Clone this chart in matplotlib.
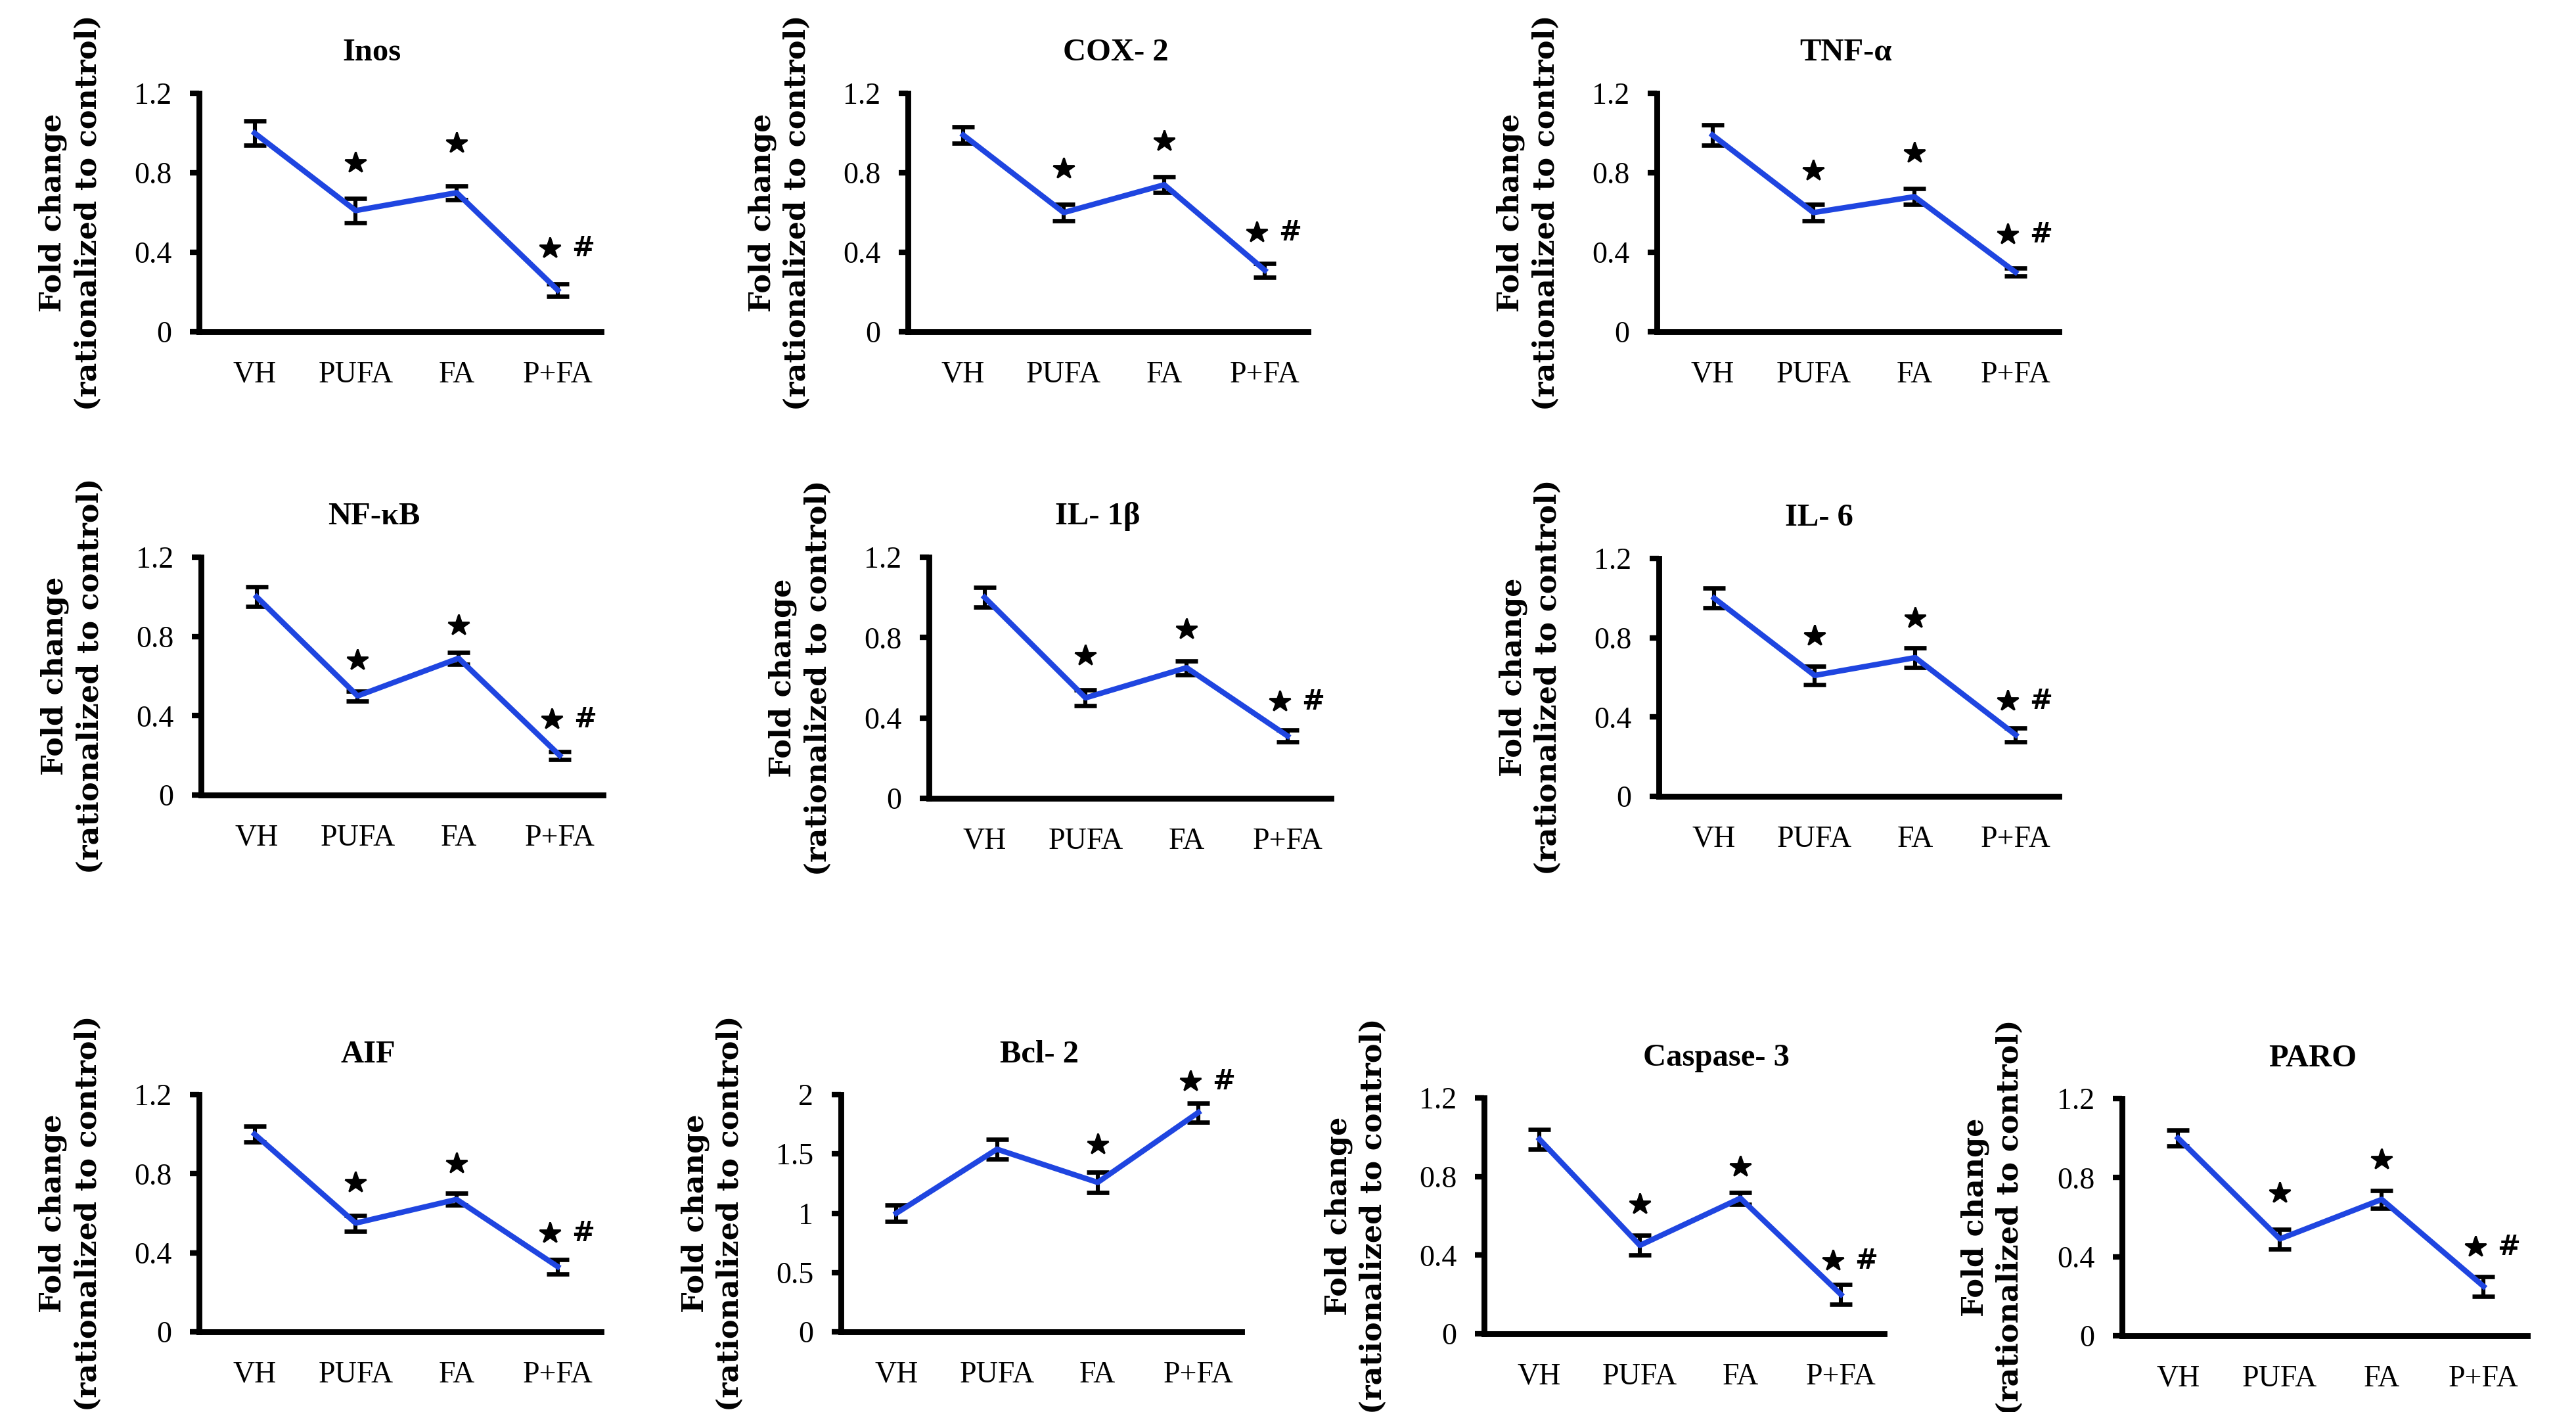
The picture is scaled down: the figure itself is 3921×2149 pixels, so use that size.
import numpy as np
import matplotlib.pyplot as plt

plt.rcParams['font.family'] = ['Liberation Serif', 'DejaVu Serif']

groups = ["VH", "PUFA", "FA", "P+FA"]
titles = ["Inos", "COX- 2", "TNF-α", "NF-κB", "IL- 1β", "IL- 6",
          "AIF", "Bcl- 2", "Caspase- 3", "PARO"]

# fold change means (VH, PUFA, FA, P+FA)
inos = [1.00, 0.61, 0.70, 0.21]
cox2 = [0.99, 0.60, 0.74, 0.31]
tnfa = [0.99, 0.60, 0.68, 0.30]
nfkb = [1.00, 0.50, 0.69, 0.20]
il1b = [1.00, 0.50, 0.65, 0.31]
il6 = [1.00, 0.61, 0.70, 0.31]
aif = [1.00, 0.55, 0.67, 0.33]
bcl2 = [1.00, 1.54, 1.26, 1.85]
casp3 = [0.99, 0.45, 0.69, 0.20]
paro = [1.00, 0.49, 0.69, 0.25]

# error bars
inos_err = [0.06, 0.06, 0.035, 0.03]
cox2_err = [0.04, 0.04, 0.04, 0.035]
tnfa_err = [0.05, 0.04, 0.04, 0.02]
nfkb_err = [0.05, 0.025, 0.03, 0.02]
il1b_err = [0.05, 0.04, 0.035, 0.03]
il6_err = [0.05, 0.045, 0.05, 0.035]
aif_err = [0.04, 0.04, 0.03, 0.037]
bcl2_err = [0.07, 0.085, 0.085, 0.08]
casp3_err = [0.05, 0.05, 0.03, 0.05]
paro_err = [0.04, 0.05, 0.045, 0.05]

# heights of the significance marks
star_pufa = [0.85, 0.82, 0.81, 0.68, 0.71, 0.81, 0.755, None, 0.66, 0.72]
star_fa = [0.95, 0.96, 0.90, 0.855, 0.84, 0.90, 0.85, 1.58, 0.85, 0.89]
star_pfa = [0.42, 0.50, 0.49, 0.38, 0.48, 0.48, 0.50, 2.11, 0.37, 0.45]

y_max = [1.2, 1.2, 1.2, 1.2, 1.2, 1.2, 1.2, 2.0, 1.2, 1.2]
ticks_12 = [0, 0.4, 0.8, 1.2]
ticks_12_lab = ["0", "0.4", "0.8", "1.2"]
ticks_2 = [0, 0.5, 1, 1.5, 2]
ticks_2_lab = ["0", "0.5", "1", "1.5", "2"]

means = [inos, cox2, tnfa, nfkb, il1b, il6, aif, bcl2, casp3, paro]
errs = [inos_err, cox2_err, tnfa_err, nfkb_err, il1b_err, il6_err,
        aif_err, bcl2_err, casp3_err, paro_err]

# panel boxes in pixels: left, right, top, bottom
boxes = [(303, 915, 142, 505), (1382, 1991, 142, 505), (2522, 3134, 142, 505),
         (306, 918, 848, 1210), (1414, 2026, 848, 1215), (2525, 3134, 850, 1212),
         (303, 915, 1666, 2027), (1280, 1890, 1666, 2027), (2259, 2868, 1671, 2030),
         (3230, 3847, 1672, 2033)]
title_x = [0.43, 0.52, 0.47, 0.43, 0.42, 0.40, 0.42, 0.495, 0.58, 0.47]

W, H = 3921, 2149
blue = "#1f45e0"
fig = plt.figure(figsize=(W / 200, H / 200), dpi=200)
x = np.arange(len(groups))

for i in range(10):
    l, r, t, b = boxes[i]
    ax = fig.add_axes([l / W, 1 - b / H, (r - l) / W, (b - t) / H])
    ax.errorbar(x, means[i], yerr=errs[i], fmt='none', ecolor='black',
                elinewidth=2.2, capsize=6, capthick=2.4, zorder=2)
    ax.plot(x, means[i], color=blue, lw=3, zorder=3)

    if star_pufa[i] is not None:
        ax.plot(1, star_pufa[i], marker='*', color='black', ms=12, clip_on=False)
    ax.plot(2, star_fa[i], marker='*', color='black', ms=12, clip_on=False)
    ax.plot(3 - 0.08, star_pfa[i], marker='*', color='black', ms=12, clip_on=False)
    ax.text(3 + 0.25, star_pfa[i], "#", ha='center', va='center', fontsize=15,
            fontweight='bold', family='DejaVu Sans')

    ax.set_xlim(-0.55, 3.43)
    ax.set_ylim(0, y_max[i])
    if y_max[i] == 2.0:
        ax.set_yticks(ticks_2, ticks_2_lab)
    else:
        ax.set_yticks(ticks_12, ticks_12_lab)
    ax.set_xticks(x, groups)
    ax.tick_params(axis='x', length=0, pad=16, labelsize=16.5)
    ax.tick_params(axis='y', direction='out', length=5, width=3, pad=10, labelsize=16.5)
    for s in ['top', 'right']:
        ax.spines[s].set_visible(False)
    for s in ['left', 'bottom']:
        ax.spines[s].set_linewidth(3.2)

    ax.text(title_x[i], 1.17, titles[i], transform=ax.transAxes, ha='center',
            va='center', fontsize=17.5, fontweight='bold')
    ax.text(-0.32, 0.5, "Fold change\n(rationalized to control)", transform=ax.transAxes,
            rotation=90, ha='center', va='center', fontsize=16, fontweight='bold',
            family='DejaVu Serif', linespacing=1.3)

fig.savefig("out.png", dpi=200)
